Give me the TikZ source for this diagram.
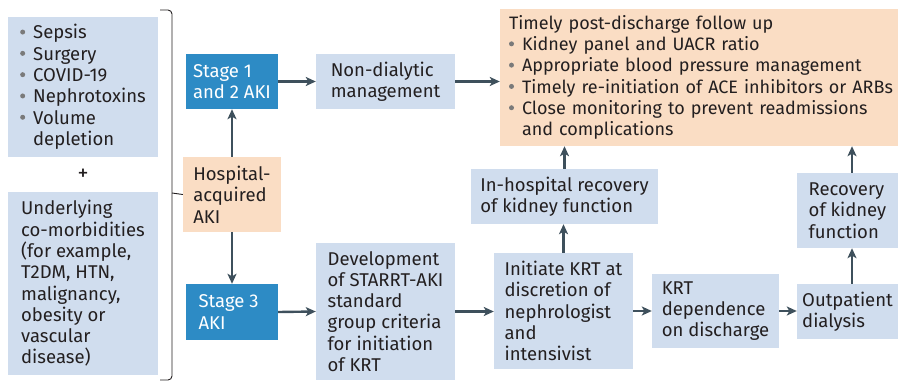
\documentclass[tikz,border=0pt]{standalone}
\usepackage{fontspec}
\setmainfont{Fira Sans}
\usetikzlibrary{arrows.meta}
\definecolor{sora}{HTML}{D0DDEE}
\definecolor{umi}{HTML}{2D8BC5}
\definecolor{momo}{HTML}{FADDC4}
\definecolor{hagane}{HTML}{3E505C}
\definecolor{nezumi}{HTML}{7A7A7A}
\definecolor{sumi}{HTML}{231F20}

\newcommand{\itm}{\makebox[13pt][l]{\textcolor{nezumi}{\raisebox{0.24em}{\tikz\fill (0,0) circle (2.5pt);}}}}
\newcommand{\cnt}{\hspace*{13pt}}

\tikzset{
    box/.style={fill=sora, text=sumi, align=left, inner ysep=0pt, inner xsep=0pt,
        font=\fontsize{18.5}{21.3}\selectfont},
    stagebox/.style={box, fill=umi, text=white},
    peachbox/.style={box, fill=momo},
    flow/.style={hagane, line width=2.4pt, -{Stealth[length=10pt,width=9pt,inset=2.5pt]}},
}

\begin{document}
\begin{tikzpicture}[x=1pt, y=-1pt]
    \useasboundingbox (0, 0) rectangle (898, 381);

    % left column
    \node[box, minimum width=150, minimum height=140] (risk) at (83, 87)
        {\itm Sepsis\\ \itm Surgery\\ \itm COVID-19\\ \itm Nephrotoxins\\ \itm Volume\\ \cnt depletion};
    \node[font=\fontsize{22}{22}\selectfont, text=sumi] (plus) at (83, 175) {+};
    \node[box, minimum width=150, minimum height=183] (comorb) at (83, 283.5)
        {Underlying\\ co-morbidities\\ (for example,\\ T2DM, HTN,\\ malignancy,\\ obesity or\\ vascular\\ disease)};

    % brace
    \draw[sumi, line width=0.9pt, rounded corners=4] (160, 10) -- (172, 10) -- (172, 380) -- (160, 380);
    \coordinate (bracetip) at (172, 193);

    % stages
    \node[stagebox, minimum width=92, minimum height=55] (stage12) at (232, 81.5)
        {Stage 1\\ and 2 AKI};
    \node[peachbox, minimum width=98, minimum height=75] (hosp) at (232, 194.5)
        {Hospital-\\ acquired\\ AKI};
    \node[stagebox, minimum width=92, minimum height=56] (stage3) at (232, 312)
        {Stage 3\\ AKI\hspace*{40pt}};

    % management paths
    \node[box, minimum width=139, minimum height=55] (nondial) at (385.5, 81.5)
        {Non-dialytic\\ management};
    \node[peachbox, minimum width=398, minimum height=137, text width=380,
        font=\fontsize{18}{21.3}\selectfont] (follow) at (699, 77.5)
        {Timely post-discharge follow up\\
         \itm Kidney panel and UACR ratio\\
         \itm Appropriate blood pressure management\\
         \mbox{\itm Timely re-initiation of ACE inhibitors or ARBs}\\
         \itm Close monitoring to prevent readmissions\\
         \cnt and complications};
    \node[box, minimum width=187, minimum height=55] (inhosp) at (564.5, 196.5)
        {In-hospital recovery\\ of kidney function};
    \node[box, minimum width=139, minimum height=137] (devel) at (385.5, 311.5)
        {Development\\ of STARRT-AKI\\ standard\\ group criteria\\ for initiation\\ of KRT};
    \node[box, minimum width=139, minimum height=116] (initiate) at (563.5, 311)
        {Initiate KRT at\\ discretion of\\ nephrologist\\ and\\ intensivist};
    \node[box, minimum width=127, minimum height=74] (krtdep) at (715.5, 311)
        {KRT\\ dependence\\ on discharge};
    \node[box, minimum width=101, minimum height=55] (outpat) at (847.5, 311.5)
        {Outpatient\\ dialysis};
    \node[box, minimum width=101, minimum height=75] (recov) at (847.5, 210.5)
        {Recovery\\ of kidney\\ function};

    % connectors
    \draw[sumi, line width=0.9pt] (bracetip) -- (hosp.west);
    \draw[flow] (hosp.north) -- (stage12.south);
    \draw[flow] (hosp.south) -- (stage3.north);
    \draw[flow] (stage12.east) -- (nondial.west);
    \draw[flow] (nondial.east) -- (nondial.east -| follow.west);
    \draw[flow] (stage3.east) -- (devel.west);
    \draw[flow] (devel.east) -- (devel.east -| initiate.west);
    \draw[flow] (initiate.east) -- (krtdep.west);
    \draw[flow] (krtdep.east) -- (krtdep.east -| outpat.west);
    \draw[flow] (initiate.north) -- (initiate.north |- inhosp.south);
    \draw[flow] (inhosp.north) -- (inhosp.north |- follow.south);
    \draw[flow] ([xshift=4.5]outpat.north) -- ([xshift=4.5]recov.south);
    \draw[flow] ([xshift=4.5]recov.north) -- ([xshift=4.5]recov.north |- follow.south);
\end{tikzpicture}
\end{document}
